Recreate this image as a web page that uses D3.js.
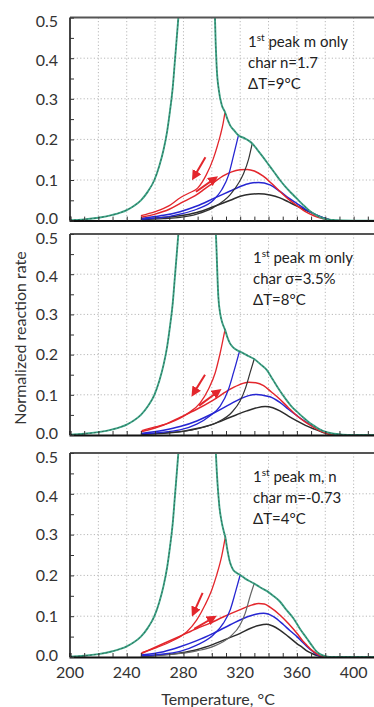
<!DOCTYPE html>
<html>
<head>
<meta charset="utf-8">
<script src="https://cdn.jsdelivr.net/npm/d3@7"></script>
<style>
  body { margin: 0; background: #fff; }
  svg { display: block; font-family: Lato, "Open Sans", sans-serif; }
</style>
</head>
<body>
<svg width="374" height="707"></svg>
<script>
// rising side of the green (overall) curve, same in every panel
const greenRise = [[200,0.001],[210,0.003],[220,0.007],[230,0.014],[240,0.026],[245,0.036],[250,0.05],[255,0.072],
  [259.5,0.1],[263,0.135],[266,0.175],[268.5,0.22],[270.5,0.27],[272.5,0.33],[274,0.395],[276.4,0.5],[278,0.58]];

// panel 1 : char n=1.7
const p1GreenFall = [[301.8,0.58],[302.3,0.49],[303.4,0.38],[305,0.32],[307,0.285],[309.3,0.267],[311,0.25],[313,0.234],
  [316,0.221],[318.8,0.21],[323,0.203],[326,0.197],[328.5,0.19],[332,0.175],[336,0.157],[340,0.138],[344,0.119],[348,0.1],
  [352,0.083],[356,0.068],[360,0.054],[364,0.04],[368,0.027],[372,0.017],[376,0.009],[380,0.004],[385,0.0015],[392,0.0003],[400,0],[420,0]];
const p1RedUp = [[250,0.012],[260,0.022],[270,0.037],[278,0.057],[284,0.068],[290,0.08],[296,0.112],[301,0.152],[304,0.185],[306,0.21],[308,0.24],[309.3,0.267]];
const p1RedLow = [[250,0.008],[260,0.016],[270,0.028],[278,0.043],[289.4,0.064],[295,0.078],[301,0.093],[308,0.11],[314,0.12],[320,0.125],
  [325,0.126],[330,0.122],[336,0.11],[342,0.092],[348,0.072],[354,0.053],[360,0.037],[366,0.022],[372,0.012],[378,0.005],[383,0.001],[386,0]];
const p1BlueUp = [[250,0.003],[260,0.006],[266,0.008],[277.6,0.016],[289.4,0.028],[301,0.05],[307,0.076],[311.8,0.112],[315.3,0.16],[318.8,0.21]];
const p1BlueLow = [[250,0.005],[260,0.01],[266,0.013],[277.6,0.022],[289.4,0.036],[301,0.054],[313,0.073],[320,0.084],[327,0.092],[333,0.094],
  [341,0.088],[348,0.072],[354,0.056],[360,0.042],[366,0.028],[372,0.017],[378,0.008],[383,0.002],[386,0]];
const p1BlackUp = [[250,0.002],[266,0.005],[277.6,0.008],[289.4,0.016],[301,0.032],[313,0.064],[318.8,0.092],[322.4,0.116],[326,0.152],[328.5,0.19]];
const p1BlackLow = [[250,0.003],[266,0.008],[277.6,0.012],[289.4,0.02],[301,0.034],[313,0.05],[320,0.06],[327,0.065],[333,0.066],
  [341,0.063],[348,0.056],[354,0.046],[360,0.036],[366,0.026],[372,0.016],[378,0.008],[383,0.002],[386,0]];
const p1Arrows = [[295.5,0.156,287.8,0.11],[288.8,0.071,301.5,0.102]];
const p1Notes = ['char n=1.7', '\u0394T=9\u00b0C'];

// panel 2 : char sigma=3.5%
const p2GreenFall = [[301.8,0.58],[303,0.49],[304.6,0.344],[306,0.3],[307.5,0.278],[309.3,0.262],[311,0.243],[312.8,0.228],[315,0.218],
  [319.5,0.208],[323,0.202],[326,0.196],[329.9,0.189],[334,0.177],[338.7,0.162],[343,0.138],[348,0.11],[352,0.09],[356,0.072],
  [360,0.058],[364,0.045],[368,0.033],[371.6,0.024],[376,0.014],[381,0.007],[386,0.003],[392,0.001],[400,0],[420,0]];
const p2RedUp = [[250.6,0.011],[260,0.02],[270.6,0.031],[282.4,0.052],[291.8,0.08],[297.6,0.114],[302.4,0.155],[305.9,0.204],[309.3,0.262]];
const p2RedLow = [[250,0.008],[266,0.025],[277.6,0.044],[289.4,0.064],[301,0.087],[313,0.114],[320,0.126],[326,0.131],[331,0.13],
  [336.5,0.123],[342,0.107],[348,0.089],[354,0.068],[360,0.048],[366,0.032],[372,0.019],[378,0.008],[383,0.002],[388,0]];
const p2BlueUp = [[250,0.003],[277.6,0.013],[289.4,0.027],[298.8,0.048],[305.9,0.072],[311.8,0.114],[315.3,0.155],[319.5,0.208]];
const p2BlueLow = [[250,0.004],[266,0.012],[277.6,0.021],[289.4,0.035],[301,0.054],[313,0.077],[320,0.09],[326,0.098],[331.8,0.101],
  [336,0.099],[341,0.095],[348,0.081],[354,0.064],[360,0.048],[366,0.033],[372,0.021],[378,0.01],[383,0.003],[388,0]];
const p2BlackUp = [[250,0.001],[266,0.005],[289.4,0.015],[303.5,0.031],[314,0.056],[320,0.085],[323.5,0.114],[327,0.155],[329.9,0.189]];
const p2BlackLow = [[250,0.002],[277.6,0.008],[289.4,0.016],[301,0.027],[313,0.044],[324.7,0.06],[331,0.067],[337.6,0.071],[343,0.068],
  [348,0.06],[354,0.047],[360,0.035],[366,0.024],[372,0.015],[378,0.007],[383,0.002],[388,0]];
const p2Arrows = [[295.2,0.15,287.5,0.106],[291,0.073,304,0.107]];
const p2Notes = ['char \u03c3=3.5%', '\u0394T=8\u00b0C'];

// panel 3 : char m=-0.73
const p3GreenFall = [[302,0.58],[303,0.49],[305.3,0.37],[307,0.33],[308.5,0.307],[309.5,0.294],[311,0.262],[312.8,0.232],[315,0.214],
  [317.6,0.206],[320,0.201],[323.5,0.192],[329.9,0.18],[334,0.171],[338.7,0.162],[343,0.151],[348,0.136],[352,0.118],[357.5,0.095],
  [362,0.07],[366.9,0.046],[371,0.026],[374,0.013],[376.3,0.007],[379.8,0.002],[383,0],[420,0]];
const p3RedUp = [[250.6,0.011],[261,0.023],[273,0.041],[282.4,0.062],[289.4,0.091],[295.3,0.128],[300,0.165],[303.5,0.202],[307,0.248],[309.5,0.294]];
const p3RedLow = [[250,0.008],[266,0.033],[277.6,0.051],[289.4,0.07],[298.8,0.083],[308,0.098],[320,0.116],[327,0.126],[333,0.131],
  [337,0.13],[341,0.122],[348,0.103],[354,0.082],[360,0.058],[364,0.04],[367,0.029],[370,0.018],[374,0.008],[378,0.002],[381,0]];
const p3BlueUp = [[250,0.003],[277.6,0.014],[289.4,0.029],[301,0.054],[308.2,0.083],[313,0.116],[316.5,0.157],[320,0.201]];
const p3BlueLow = [[250,0.005],[266,0.013],[277.6,0.025],[289.4,0.04],[301,0.058],[313,0.079],[324.7,0.098],[331,0.105],[336.5,0.107],
  [343.5,0.099],[350.6,0.079],[355,0.065],[360,0.05],[364,0.036],[367,0.026],[371,0.014],[374,0.006],[378,0.001],[381,0]];
const p3BlackUp = [[250,0.001],[266,0.005],[289.4,0.015],[301,0.026],[313,0.05],[320,0.079],[323.5,0.107],[327,0.149],[329.9,0.18]];
const p3BlackLow = [[250,0.002],[277.6,0.01],[289.4,0.018],[301,0.031],[313,0.048],[320,0.058],[327,0.07],[333,0.077],[338.8,0.08],
  [343,0.076],[348,0.066],[354,0.05],[360,0.033],[364,0.023],[367,0.015],[371,0.008],[375,0.003],[379,0]];
const p3Arrows = [[293.5,0.157,287.4,0.11],[287.6,0.069,300.4,0.095]];
const p3Notes = ['char m=-0.73', '\u0394T=4\u00b0C'];

const firstLines = ['peak m only', 'peak m only', 'peak m, n'];
const xTicks = [200, 240, 280, 320, 360, 400];
const yTicks = [0, 0.1, 0.2, 0.3, 0.4, 0.5];

const svg = d3.select('svg');
const width = +svg.attr('width');
const height = +svg.attr('height');

const colors = {green: '#3ea587', red: '#e3262c', blue: '#2626d2', black: '#2c2c2c'};

const xScale = d3.scaleLinear().domain([200, 420]).range([70, 382]);

const panels = [
  {top: 17.6, bottom: 220.6, fall: p1GreenFall, red: [p1RedUp, p1RedLow], blue: [p1BlueUp, p1BlueLow], black: [p1BlackUp, p1BlackLow], arrows: p1Arrows, notes: p1Notes, noteX: 248},
  {top: 234, bottom: 435, fall: p2GreenFall, red: [p2RedUp, p2RedLow], blue: [p2BlueUp, p2BlueLow], black: [p2BlackUp, p2BlackLow], arrows: p2Arrows, notes: p2Notes, noteX: 253},
  {top: 453, bottom: 657, fall: p3GreenFall, red: [p3RedUp, p3RedLow], blue: [p3BlueUp, p3BlueLow], black: [p3BlackUp, p3BlackLow], arrows: p3Arrows, notes: p3Notes, noteX: 253}
];

// labels at the ends of each axis sit a little inside the ticks
const labelShift = d => d === 0.5 ? 4 : d === 0.4 ? 2 : d === 0 ? -2 : 0;

const defs = svg.append('defs');
defs.append('marker')
    .attr('id', 'arrowhead')
    .attr('viewBox', '0 0 10 10')
    .attr('refX', 5).attr('refY', 5)
    .attr('markerWidth', 5).attr('markerHeight', 5)
    .attr('orient', 'auto')
  .append('path')
    .attr('d', 'M0,0 L10,5 L0,10 z')
    .attr('fill', colors.red);

panels.forEach((p, i) => {
  const yScale = d3.scaleLinear().domain([0, 0.5]).range([p.bottom, p.top]);
  const g = svg.append('g');

  defs.append('clipPath').attr('id', `clip${i}`)
    .append('rect')
      .attr('x', 70).attr('y', p.top)
      .attr('width', 312).attr('height', p.bottom - p.top);

  // dotted grid
  g.selectAll('.vgrid').data(d3.range(220, 420, 20))
    .enter().append('line')
      .attr('x1', d => xScale(d)).attr('x2', d => xScale(d))
      .attr('y1', p.top).attr('y2', p.bottom)
      .attr('stroke', '#b8b8b8').attr('stroke-dasharray', '1.2,2.2');
  g.selectAll('.hgrid').data([0.1, 0.2, 0.3, 0.4])
    .enter().append('line')
      .attr('x1', 70).attr('x2', width)
      .attr('y1', d => yScale(d)).attr('y2', d => yScale(d))
      .attr('stroke', '#b8b8b8').attr('stroke-dasharray', '1.2,2.2');

  const line = d3.line()
    .x(d => xScale(d[0]))
    .y(d => yScale(d[1]))
    .curve(d3.curveMonotoneX);

  const plot = g.append('g').attr('clip-path', `url(#clip${i})`);

  const series = [
    {d: p.black[1], c: colors.black, w: 1.5}, {d: p.blue[1], c: colors.blue, w: 1.5}, {d: p.red[1], c: colors.red, w: 1.5},
    {d: p.black[0], c: i === 2 ? '#666' : '#333', w: 1.2}, {d: p.blue[0], c: colors.blue, w: 1.3}, {d: p.red[0], c: colors.red, w: 1.3}
  ];
  plot.selectAll('.curve').data(series)
    .enter().append('path')
      .attr('d', s => line(s.d))
      .attr('fill', 'none')
      .attr('stroke', s => s.c)
      .attr('stroke-width', s => s.w);

  const green = greenRise.concat(p.fall);
  plot.append('path')
    .attr('d', line(green))
    .attr('fill', 'none')
    .attr('stroke', colors.green)
    .attr('stroke-width', 1.9);
  plot.append('path')
    .attr('d', line(green))
    .attr('fill', 'none')
    .attr('stroke', '#1d3f35')
    .attr('stroke-width', 0.7)
    .attr('stroke-dasharray', '2,2')
    .attr('opacity', 0.75);

  // red arrows
  g.selectAll('.arrow').data(p.arrows)
    .enter().append('line')
      .attr('x1', a => xScale(a[0])).attr('y1', a => yScale(a[1]))
      .attr('x2', a => xScale(a[2])).attr('y2', a => yScale(a[3]))
      .attr('stroke', colors.red).attr('stroke-width', 2)
      .attr('marker-end', 'url(#arrowhead)');

  // frame: top and left, bottom axis
  g.append('line').attr('x1', 70).attr('x2', width).attr('y1', p.top).attr('y2', p.top)
    .attr('stroke', '#555').attr('stroke-width', 2);
  g.append('line').attr('x1', 70).attr('x2', 70).attr('y1', p.top).attr('y2', p.bottom)
    .attr('stroke', '#444').attr('stroke-width', 2);

  const xAxis = d3.axisBottom(xScale)
    .tickValues(d3.range(200, 421, 10))
    .tickSize(-4)
    .tickFormat('');
  const xAxisG = g.append('g').call(xAxis)
    .attr('transform', `translate(0,${p.bottom})`);
  xAxisG.select('.domain').attr('stroke', '#111').attr('stroke-width', 2);
  xAxisG.selectAll('.tick line').attr('stroke', '#333');

  const yAxis = d3.axisLeft(yScale)
    .tickValues(d3.range(0, 0.51, 0.05))
    .tickSize(-4)
    .tickFormat('');
  const yAxisG = g.append('g').call(yAxis).attr('transform', 'translate(70,0)');
  yAxisG.select('.domain').remove();
  yAxisG.selectAll('.tick line').attr('stroke', '#333');

  g.selectAll('.ylab').data(yTicks)
    .enter().append('text')
      .attr('x', 58)
      .attr('y', d => yScale(d) + labelShift(d))
      .attr('dy', '0.36em')
      .attr('text-anchor', 'end')
      .attr('font-size', 16)
      .attr('fill', '#333')
      .text(d3.format('.1f'));

  // annotation
  const note = g.append('text')
    .attr('font-size', 15)
    .attr('fill', '#222');
  const first = note.append('tspan').attr('x', p.noteX).attr('y', p.top + 29);
  first.append('tspan').text('1');
  first.append('tspan').attr('font-size', 10).attr('dy', -6).text('st');
  first.append('tspan').attr('dy', 6).text(' ' + firstLines[i]);
  p.notes.forEach((t, k) => {
    note.append('tspan').attr('x', p.noteX).attr('y', p.top + 50 + k * 21).text(t);
  });

  if (i === 2) {
    g.selectAll('.xlab').data(xTicks)
      .enter().append('text')
        .attr('x', d => xScale(d))
        .attr('y', p.bottom + 21)
        .attr('text-anchor', 'middle')
        .attr('font-size', 16)
        .attr('fill', '#333')
        .text(d => d);
  }
});

svg.append('text')
  .attr('x', 218)
  .attr('y', 705)
  .attr('text-anchor', 'middle')
  .attr('font-size', 16)
  .attr('fill', '#333')
  .text('Temperature, \u00b0C');

svg.append('text')
  .attr('transform', 'translate(26,338) rotate(-90)')
  .attr('text-anchor', 'middle')
  .attr('font-size', 16)
  .attr('fill', '#333')
  .text('Normalized reaction rate');
</script>
</body>
</html>
